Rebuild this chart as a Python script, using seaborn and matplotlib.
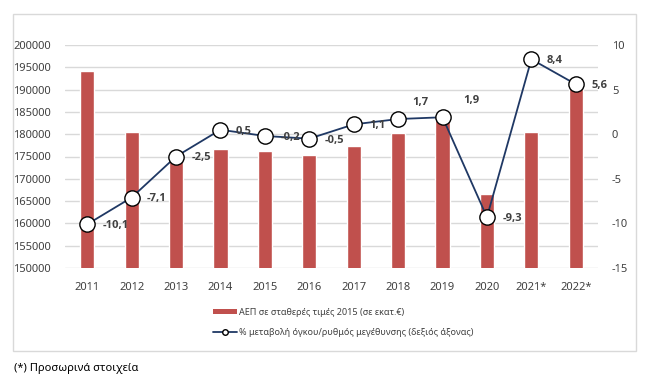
import numpy as np
import matplotlib
matplotlib.use("Agg")
import matplotlib.pyplot as plt
from matplotlib.patches import Rectangle
from matplotlib.lines import Line2D
from matplotlib.patches import Patch
import seaborn as sns

# ── Data ───────────────────────────────────────────────────────────────────
years = ["2011", "2012", "2013", "2014", "2015", "2016",
         "2017", "2018", "2019", "2020", "2021*", "2022*"]
gdp = [194200, 180400, 175900, 176700, 176300, 175400,
       177300, 180300, 183700, 166600, 180600, 190800]
growth = [-10.1, -7.1, -2.5, 0.5, -0.2, -0.5, 1.1, 1.7, 1.9, -9.3, 8.4, 5.6]
growth_labels = ["-10,1", "-7,1", "-2,5", "0,5", "-0,2", "-0,5",
                 "1,1", "1,7", "1,9", "-9,3", "8,4", "5,6"]
left_ticks = list(range(150000, 200001, 5000))
right_ticks = list(range(-15, 11, 5))

bar_name = "ΑΕΠ σε σταθερές τιμές 2015 (σε εκατ.€)"
line_name = "% μεταβολή όγκου/ρυθμός μεγέθυνσης (δεξιός άξονας)"
footnote = "(*) Προσωρινά στοιχεία"

BAR_COLOR = "#c0504d"
LINE_COLOR = "#1f3864"
TEXT_COLOR = "#404040"
GRID_COLOR = "#d9d9d9"

sns.set_theme(style="white")
plt.rcParams["font.family"] = ["Noto Sans", "DejaVu Sans"]

W, H = 653, 384
fig = plt.figure(figsize=(W / 100, H / 100), dpi=100)
ax = fig.add_axes([65 / W, 1 - 268 / H, (598 - 65) / W, (268 - 45) / H])

# chart frame
fig.patches.append(Rectangle((13 / W, 1 - 351 / H), (636 - 13) / W, (351 - 14) / H,
                             transform=fig.transFigure, fill=False,
                             edgecolor="#d9d9d9", linewidth=1.0))

# ── Bars (left axis) ───────────────────────────────────────────────────────
sns.barplot(x=years, y=gdp, color=BAR_COLOR, saturation=1, width=0.32, ax=ax)
ax.set_ylim(150000, 200000)
ax.set_yticks(left_ticks)
ax.set_yticklabels([str(t) for t in left_ticks])
ax.yaxis.grid(True, color=GRID_COLOR, linewidth=1.0)
ax.set_axisbelow(True)
ax.set_xlim(-0.5, len(years) - 0.5)
ax.set_xlabel("")
ax.set_ylabel("")
for s in ax.spines.values():
    s.set_visible(False)
ax.tick_params(axis="both", length=0, labelsize=8, colors=TEXT_COLOR)
ax.tick_params(axis="x", pad=10)
ax.tick_params(axis="y", pad=10)

# ── Line (right axis) ──────────────────────────────────────────────────────
ax2 = ax.twinx()
xpos = np.arange(len(years))
sns.lineplot(x=xpos, y=growth, ax=ax2, color=LINE_COLOR, linewidth=1.3,
             marker="o", markersize=11, markerfacecolor="white",
             markeredgecolor="black", markeredgewidth=1.0)
ax2.set_ylim(-15, 10)
ax2.set_yticks(right_ticks)
ax2.set_yticklabels([str(t) for t in right_ticks])
ax2.set_ylabel("")
for s in ax2.spines.values():
    s.set_visible(False)
ax2.tick_params(axis="y", length=0, labelsize=8, colors=TEXT_COLOR, pad=10)
ax2.grid(False)

for i, (v, lab) in enumerate(zip(growth, growth_labels)):
    if years[i] == "2018":
        off = (10, 12)
    elif years[i] == "2019":
        off = (15, 12)
    else:
        off = (11, -1)
    ax2.annotate(lab, (i, v), xytext=off, textcoords="offset points",
                 ha="left", va="center", fontsize=8, fontweight="bold",
                 family=["Open Sans", "DejaVu Sans"], color=TEXT_COLOR)

# ── Legend ─────────────────────────────────────────────────────────────────
handles = [
    Patch(facecolor=BAR_COLOR, edgecolor="none"),
    Line2D([0], [0], color=LINE_COLOR, linewidth=1.3, marker="o", markersize=4,
           markerfacecolor="white", markeredgecolor="black"),
]
fig.legend(handles, [bar_name, line_name], loc="upper left",
           bbox_to_anchor=(205 / W, 1 - 300 / H), frameon=False, ncol=1,
           fontsize=6.5, handlelength=2.6, handleheight=0.5, handletextpad=0.3,
           labelspacing=1.2, labelcolor=TEXT_COLOR)

fig.text(14 / W, 1 - 368 / H, footnote, fontsize=8, color="black",
         ha="left", va="center")

fig.savefig("out.png", dpi=100)
